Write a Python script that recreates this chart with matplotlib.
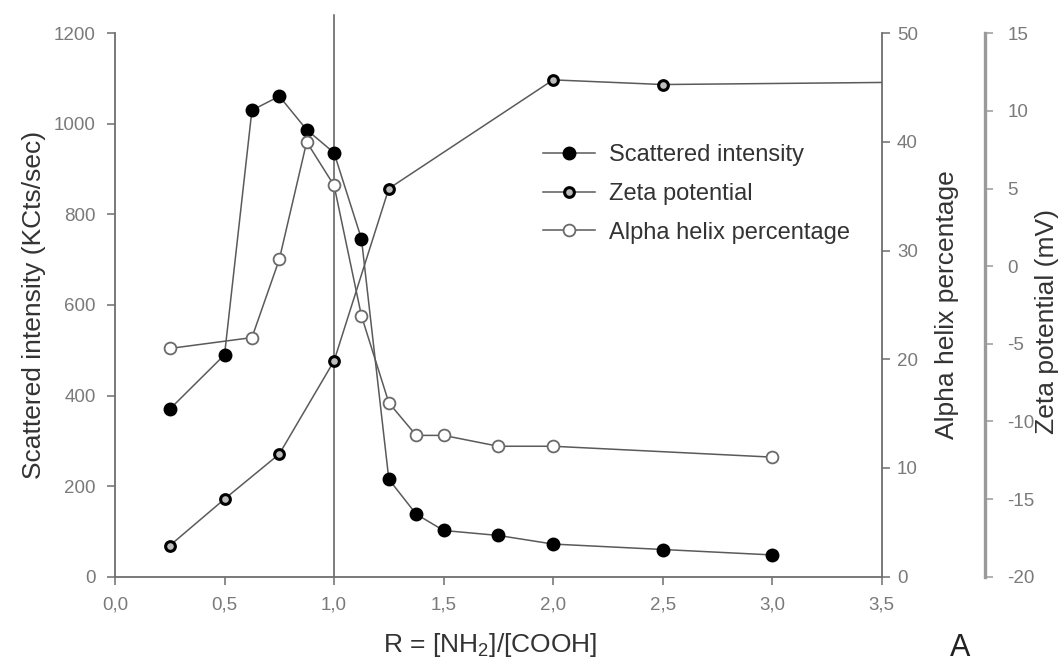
import matplotlib

matplotlib.use("Agg")
import matplotlib.pyplot as plt

plt.rcParams["font.family"] = ["Liberation Sans", "DejaVu Sans"]
plt.rcParams["mathtext.default"] = "regular"
plt.rcParams["axes.unicode_minus"] = False

# values
r_intensity = [0.25, 0.5, 0.625, 0.75, 0.875, 1.0, 1.125, 1.25, 1.375, 1.5, 1.75, 2.0, 2.5, 3.0]
intensity = [370, 490, 1030, 1061, 987, 936, 746, 215, 138, 102, 91, 72, 60, 48]

r_alpha = [0.25, 0.625, 0.75, 0.875, 1.0, 1.125, 1.25, 1.375, 1.5, 1.75, 2.0, 3.0]
alpha_helix = [21.0, 22.0, 29.2, 40.0, 36.0, 24.0, 16.0, 13.0, 13.0, 12.0, 12.0, 11.0]

# last point lies past the right edge, the line is clipped there
r_zeta = [0.25, 0.5, 0.75, 1.0, 1.25, 2.0, 2.5, 4.0]
zeta = [-18.0, -15.0, -12.1, -6.1, 5.0, 12.0, 11.7, 11.9]

equivalence_r = 1.0

x_ticks = [0.0, 0.5, 1.0, 1.5, 2.0, 2.5, 3.0, 3.5]
x_tick_labels = ["0,0", "0,5", "1,0", "1,5", "2,0", "2,5", "3,0", "3,5"]
intensity_ticks = [0, 200, 400, 600, 800, 1000, 1200]
alpha_ticks = [0, 10, 20, 30, 40, 50]
zeta_ticks = [-20, -15, -10, -5, 0, 5, 10, 15]

LINE = "#5a5a5a"
SPINE = "#6e6e6e"
TICK_TEXT = "#7a7a7a"
LABEL_TEXT = "#333333"


def style_axis(axis, side, color=SPINE, width=1.3, pad=6):
    axis.tick_params(axis="y", direction="out", length=6, width=1.1, colors=color,
                     labelcolor=TICK_TEXT, labelsize=13.5, pad=pad)
    axis.spines[side].set_color(color)
    axis.spines[side].set_linewidth(width)


fig = plt.figure(figsize=(10.59, 6.70), dpi=100)
ax = fig.add_axes([0.1086, 0.1393, 0.7240, 0.8110])
ax2 = ax.twinx()
ax3 = ax.twinx()

for a in (ax, ax2, ax3):
    for side in ("top", "right", "left", "bottom"):
        a.spines[side].set_visible(False)
ax.spines["left"].set_visible(True)
ax.spines["bottom"].set_visible(True)
ax2.spines["right"].set_visible(True)
ax3.spines["right"].set_visible(True)
ax3.spines["right"].set_position(("axes", 1.1347))

ax.axvline(equivalence_r, ymin=0, ymax=1.034, clip_on=False, color=LINE, lw=1.1, zorder=1)

(h_int,) = ax.plot(r_intensity, intensity, color=LINE, lw=1.1, marker="o", ms=9,
                   mfc="black", mec="black", label="Scattered intensity", zorder=3)
(h_alpha,) = ax2.plot(r_alpha, alpha_helix, color=LINE, lw=1.1, marker="o", ms=8.5,
                      mfc="white", mec="#6a6a6a", mew=1.3, label="Alpha helix percentage")
(h_zeta,) = ax3.plot(r_zeta, zeta, color=LINE, lw=1.1, marker="o", ms=7,
                     mfc="#bdbdbd", mec="black", mew=2.2, label="Zeta potential")

ax.set_xlim(0, 3.5)
ax.set_ylim(0, 1200)
ax2.set_ylim(0, 50)
ax3.set_ylim(-20, 15)

ax.set_xticks(x_ticks)
ax.set_xticklabels(x_tick_labels)
ax.set_yticks(intensity_ticks)
ax2.set_yticks(alpha_ticks)
ax3.set_yticks(zeta_ticks)

ax.tick_params(axis="x", direction="out", length=6, width=1.1, colors=SPINE,
               labelcolor=TICK_TEXT, labelsize=13.5, pad=8)
ax.spines["bottom"].set_color(SPINE)
ax.spines["bottom"].set_linewidth(1.3)
style_axis(ax, "left", pad=8)
style_axis(ax2, "right", pad=5)
style_axis(ax3, "right", color="#9a9a9a", width=2.4, pad=10)

ax.set_xlabel("R = [NH$_2$]/[COOH]", fontsize=19, color=LABEL_TEXT, va="center")
ax.xaxis.set_label_coords(0.489, -0.126)
ax.set_ylabel("Scattered intensity (KCts/sec)", fontsize=19, color=LABEL_TEXT, va="center")
ax.yaxis.set_label_coords(-0.106, 0.5)
ax2.set_ylabel("Alpha helix percentage", fontsize=19, color=LABEL_TEXT,
               rotation=90, va="center")
ax2.yaxis.set_label_coords(1.0852, 0.5)
ax3.set_ylabel("Zeta potential (mV)", fontsize=19, color=LABEL_TEXT,
               rotation=90, va="center")
ax3.yaxis.set_label_coords(1.215, 0.47)

handles = [h_int, h_zeta, h_alpha]
leg = ax3.legend(handles=handles, labels=[h.get_label() for h in handles],
                 loc="center left", bbox_to_anchor=(543 / 1059, 1 - 194 / 670),
                 bbox_transform=fig.transFigure, frameon=False, fontsize=17,
                 handlelength=2.2, handletextpad=0.6, labelspacing=0.7,
                 borderpad=0, borderaxespad=0)
for text in leg.get_texts():
    text.set_color(LABEL_TEXT)

fig.text(960 / 1059, 1 - 648 / 670, "A", fontsize=22, color="#222222",
         ha="center", va="center")

fig.savefig("out.png", dpi=100)
